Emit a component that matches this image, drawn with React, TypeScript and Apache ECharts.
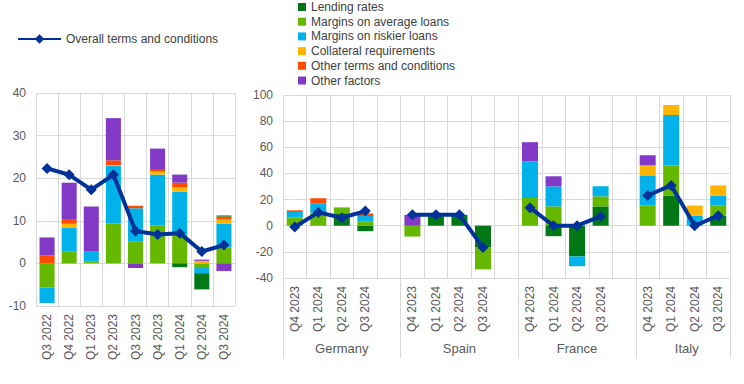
import React, { useEffect, useRef } from "react";
import * as echarts from "echarts";

// ---------- Left panel (euro area) ----------
const quartersLeft = ["Q3 2022", "Q4 2022", "Q1 2023", "Q2 2023", "Q3 2023", "Q4 2023", "Q1 2024", "Q2 2024", "Q3 2024"];
const lendingRatesLeft = [0, 0, 0, 0, 0, 0, -0.9, -3.8, 0.25];
const marginsAvgLeft = [-5.7, 2.75, 0.4, 9.35, 5.1, 8.85, 6.75, -1.1, 3.75];
const marginsRiskLeft = [-3.6, 5.7, 2.35, 13.5, 7.85, 12.0, 10.1, -1.2, 5.6];
const collateralLeft = [0, 0.85, 0, 0.25, 0, 0.7, 1.0, 0.6, 0.95];
const otherTermsLeft = [1.9, 0.95, 0, 1.1, 0.6, 0.4, 1.1, 0, 0.7];
const otherFactorsLeft = [4.2, 8.7, 10.6, 9.9, -1.1, 5.0, 1.9, 0.3, -1.8];
const overallLeft = [22.3, 20.8, 17.3, 20.8, 7.6, 6.8, 7.1, 2.8, 4.3];

// ---------- Right panel (countries) ----------
const countries = ["Germany", "Spain", "France", "Italy"];
const quartersRight = ["Q4 2023", "Q1 2024", "Q2 2024", "Q3 2024"];
const lendingRatesRight = [[0, 0, 9.5, -4.2], [0, 8.3, 8.3, -16.7], [0, -8, -23.5, 14.8], [0, 23.1, 0, 7.7]];
const marginsAvgRight = [[6.4, 10, 4.5, 3.1], [-8.3, 0, 0, -16.7], [21.2, 14.8, 0, 7.7], [15.4, 23.1, 0, 7.7]];
const marginsRiskRight = [[4.1, 7, 0, 4.3], [0, 0, 0, 0], [28.1, 15.3, -7.5, 7.7], [23.1, 38.5, 7.7, 7.7]];
const collateralRight = [[0, 0, 0, 0], [0, 0, 0, 0], [0, 0, 0, 0], [7.7, 7.7, 7.7, 7.7]];
const otherTermsRight = [[1.3, 4, 0, 2], [0, 0, 0, 0], [0, 0, 0, 0], [0, 0, 0, 0]];
const otherFactorsRight = [[0, 0, 0, 0], [8.3, 0, 0, 0], [14.6, 7.7, 0, 0], [7.7, 0, 0, 0]];
const overallRight = [[-1, 10.2, 6.1, 11.2], [8.3, 8.3, 8.3, -16.7], [13.8, 0, 0, 7.2], [23.1, 30.8, 0, 7.7]];

const seriesNames = [
  "Lending rates",
  "Margins on average loans",
  "Margins on riskier loans",
  "Collateral requirements",
  "Other terms and conditions",
  "Other factors",
];
const seriesColors = ["#007816", "#65B800", "#00B1EA", "#FFB400", "#FF4B00", "#8139C6"];
const lineName = "Overall terms and conditions";
const lineColor = "#003299";

function flattenGroups(groups: any[][]): any[] {
  const out: any[] = [];
  groups.forEach((g, i) => {
    out.push(...g);
    if (i < groups.length - 1) out.push(null);
  });
  return out;
}

const rightCategories = flattenGroups(countries.map(() => quartersRight)).map((v) => (v == null ? "" : String(v)));
const groupLabels: string[] = [];
countries.forEach((c, i) => {
  const n = quartersRight.length;
  for (let k = 0; k < n; k++) groupLabels.push(k === Math.floor(n / 2) ? c : "");
  if (i < countries.length - 1) groupLabels.push("");
});

const FONT = "Liberation Sans";
const GRID_COLOR = "#d9d9d9";
const TEXT_COLOR = "#595959";

export default function App() {
  const ref = useRef<HTMLDivElement>(null);

  useEffect(() => {
    if (!ref.current) return;
    const chart = echarts.init(ref.current, null, { renderer: "svg" });

    const leftData = [lendingRatesLeft, marginsAvgLeft, marginsRiskLeft, collateralLeft, otherTermsLeft, otherFactorsLeft];
    const rightData = [lendingRatesRight, marginsAvgRight, marginsRiskRight, collateralRight, otherTermsRight, otherFactorsRight];
    const leftOrder = [1, 2, 3, 4, 5, 0];

    const series: any[] = [];
    leftOrder.forEach((i) => {
      series.push({
        name: seriesNames[i],
        type: "bar",
        xAxisIndex: 0,
        yAxisIndex: 0,
        stack: "left",
        barWidth: "68%",
        itemStyle: { color: seriesColors[i] },
        data: leftData[i],
      });
    });
    rightData.forEach((d, i) => {
      series.push({
        name: seriesNames[i],
        type: "bar",
        xAxisIndex: 1,
        yAxisIndex: 1,
        stack: "right",
        barWidth: "68%",
        itemStyle: { color: seriesColors[i] },
        data: flattenGroups(d),
      });
    });
    const lineCommon = {
      name: lineName,
      type: "line",
      z: 5,
      symbol: "diamond",
      symbolSize: 11,
      lineStyle: { color: lineColor, width: 4 },
      itemStyle: { color: lineColor },
      connectNulls: false,
    };
    series.push({ ...lineCommon, xAxisIndex: 0, yAxisIndex: 0, data: overallLeft });
    series.push({ ...lineCommon, xAxisIndex: 1, yAxisIndex: 1, data: flattenGroups(overallRight) });

    const catAxisBase = {
      type: "category",
      position: "bottom",
      axisLine: { show: false, onZero: false },
      axisTick: { show: false },
      splitLine: { show: true, interval: 0, lineStyle: { color: GRID_COLOR, width: 1 } },
      axisLabel: {
        interval: 0,
        rotate: 90,
        margin: 8,
        color: TEXT_COLOR,
        fontFamily: FONT,
        fontSize: 12,
      },
    };

    const valAxisBase = {
      type: "value",
      axisLine: { show: false },
      axisTick: { show: false },
      splitLine: { show: true, lineStyle: { color: GRID_COLOR, width: 1 } },
      axisLabel: { color: TEXT_COLOR, fontFamily: FONT, fontSize: 12, margin: 10 },
    };

    chart.setOption({
      animation: false,
      textStyle: { fontFamily: FONT },
      legend: [
        {
          data: seriesNames,
          orient: "vertical",
          left: 293,
          top: -4,
          itemWidth: 8,
          itemHeight: 8,
          itemGap: 2.7,
          icon: "rect",
          selectedMode: false,
          textStyle: { color: "#404040", fontFamily: FONT, fontSize: 12, lineHeight: 12 },
        },
        {
          data: [lineName],
          orient: "horizontal",
          left: 12,
          top: 28,
          itemWidth: 43,
          itemHeight: 12,
          selectedMode: false,
          textStyle: { color: "#404040", fontFamily: FONT, fontSize: 12 },
        },
      ],
      grid: [
        { left: 36, top: 93, width: 199, height: 213, containLabel: false },
        { left: 283, top: 95, width: 447, height: 183, containLabel: false },
      ],
      xAxis: [
        { ...catAxisBase, gridIndex: 0, data: quartersLeft },
        { ...catAxisBase, gridIndex: 1, data: rightCategories },
        {
          type: "category",
          gridIndex: 1,
          position: "bottom",
          data: groupLabels,
          axisLine: { show: false, onZero: false },
          splitLine: { show: false },
          axisTick: {
            show: true,
            length: 80,
            interval: (index: number) => index % 5 === 0,
            lineStyle: { color: GRID_COLOR, width: 1 },
          },
          axisLabel: {
            interval: 0,
            margin: 64,
            color: TEXT_COLOR,
            fontFamily: FONT,
            fontSize: 13,
            formatter: (v: string) => (v === "Italy" ? "{it|Italy}" : v),
            rich: { it: { padding: [0, 16, 0, 0], color: TEXT_COLOR, fontFamily: FONT, fontSize: 13 } },
          },
        },
      ],
      yAxis: [
        { ...valAxisBase, gridIndex: 0, min: -10, max: 40, interval: 10 },
        { ...valAxisBase, gridIndex: 1, min: -40, max: 100, interval: 20 },
      ],
      series,
    });

    return () => chart.dispose();
  }, []);

  return (
    <div
      ref={ref}
      style={{ position: "absolute", left: 0, top: 0, width: 744, height: 384, background: "#fff" }}
    />
  );
}
